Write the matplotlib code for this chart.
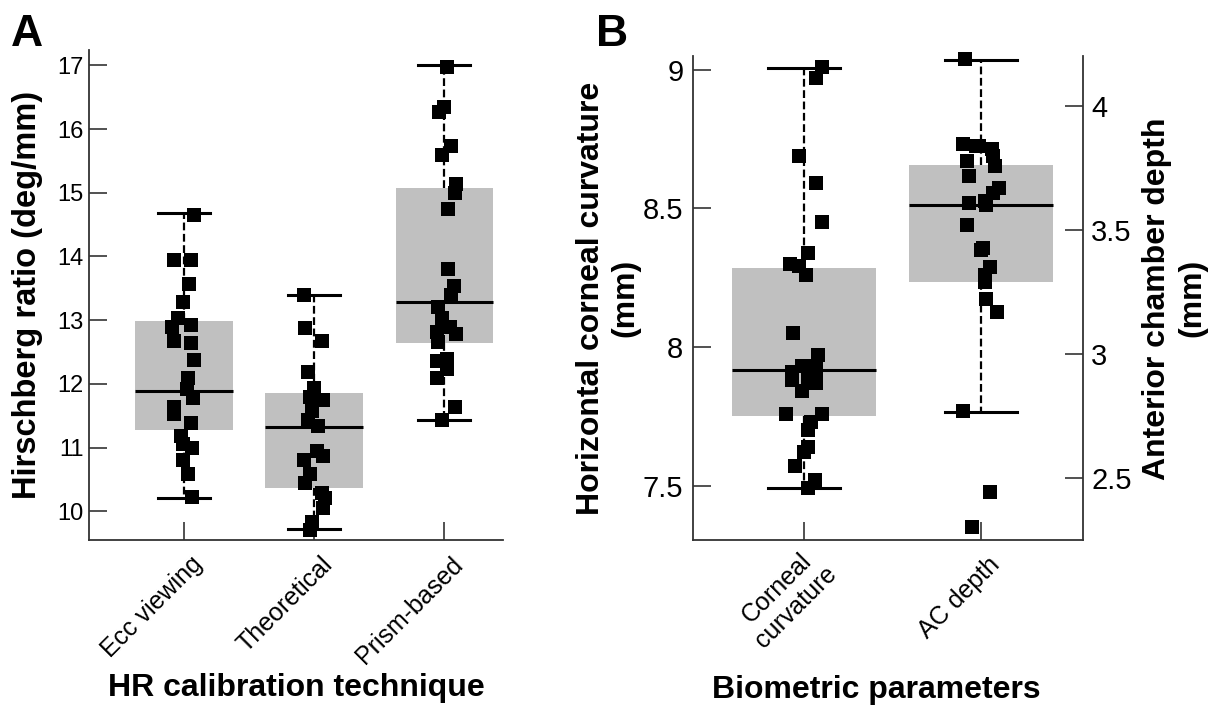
import matplotlib
matplotlib.use("Agg")
import matplotlib.pyplot as plt
from matplotlib.transforms import ScaledTranslation

plt.rcParams['font.family'] = ['Liberation Sans', 'DejaVu Sans']

# ---------------- data ----------------
hr_categories = ["Ecc viewing", "Theoretical", "Prism-based"]
hr_ecc = [14.65, 13.95, 13.95, 13.57, 13.28, 13.04, 12.89, 12.93, 12.68, 12.64, 12.37,
          12.10, 11.92, 11.78, 11.63, 11.52, 11.38, 11.18, 11.05, 11.00, 10.81, 10.59, 10.22]
hr_ecc_jit = [0.08, -0.08, 0.05, 0.04, -0.01, -0.05, -0.09, 0.05, -0.08, 0.05, 0.08,
              0.03, 0.02, 0.07, -0.08, -0.08, 0.05, -0.02, -0.01, 0.06, -0.01, 0.03, 0.06]
hr_theo = [13.40, 12.88, 12.67, 12.19, 11.94, 11.80, 11.74, 11.57, 11.44, 11.34,
           10.94, 10.87, 10.81, 10.58, 10.45, 10.29, 10.21, 10.05, 9.84, 9.71]
hr_theo_jit = [-0.08, -0.07, 0.06, -0.05, 0.0, -0.03, 0.07, -0.02, -0.05, 0.03,
               0.02, 0.07, -0.08, -0.03, -0.07, 0.06, 0.08, 0.07, -0.02, -0.03]
hr_prism = [16.98, 16.35, 16.27, 15.73, 15.59, 15.13, 15.00, 14.75, 13.81, 13.54, 13.39,
            13.20, 13.04, 12.89, 12.81, 12.78, 12.65, 12.39, 12.36, 12.23, 12.10, 11.63, 11.44]
hr_prism_jit = [0.02, 0.0, -0.04, 0.05, -0.02, 0.09, 0.08, 0.03, 0.03, 0.07, 0.05,
                -0.05, -0.02, 0.04, -0.06, 0.09, -0.05, 0.02, -0.06, 0.02, -0.06, 0.08, -0.02]
# box stats: whislo, q1, med, q3, whishi
hr_stats = [[10.21, 11.28, 11.89, 12.98, 14.68],
            [9.73, 10.37, 11.33, 11.86, 13.39],
            [11.43, 12.64, 13.29, 15.07, 17.00]]

bio_categories = ["Corneal\ncurvature", "AC depth"]
curv = [9.01, 8.97, 8.69, 8.59, 8.45, 8.34, 8.30, 8.29, 8.26, 8.05, 7.97, 7.93, 7.93, 7.92,
        7.91, 7.89, 7.88, 7.87, 7.84, 7.76, 7.76, 7.73, 7.70, 7.64, 7.62, 7.57, 7.52, 7.49]
curv_jit = [0.10, 0.07, -0.03, 0.07, 0.10, 0.02, -0.08, -0.03, 0.01, -0.06, 0.08, -0.01, 0.04, 0.07,
            -0.07, 0.02, -0.07, 0.07, -0.01, -0.10, 0.10, 0.04, 0.02, 0.02, 0.0, -0.05, 0.06, 0.02]
acd = [4.19, 3.85, 3.84, 3.84, 3.83, 3.80, 3.78, 3.76, 3.72, 3.67, 3.65, 3.62, 3.60, 3.61,
       3.52, 3.43, 3.42, 3.35, 3.32, 3.29, 3.22, 3.17, 2.77, 2.44, 2.30]
acd_jit = [-0.09, -0.10, -0.03, -0.01, 0.06, 0.07, -0.08, 0.08, -0.07, 0.10, 0.07, 0.02, 0.03, -0.07,
           -0.08, 0.01, 0.0, 0.05, 0.02, 0.02, 0.03, 0.09, -0.10, 0.05, -0.05]
curv_stats = [7.491, 7.752, 7.917, 8.286, 9.006]
acd_stats = [2.767, 3.292, 3.600, 3.764, 4.189]

# ---------------- style ----------------
BOX_C = '#c0c0c0'
SPINE_C = '#333333'
TICK_FS_A = 17
TICK_FS_B = 21
XT_FS = 18
LAB_FS = 23

fig = plt.figure(figsize=(12.15, 7.08), dpi=100)


def stats_dict(s):
    return dict(whislo=s[0], q1=s[1], med=s[2], q3=s[3], whishi=s[4], fliers=[])


def draw_box(ax, pos, s, width, capw):
    ax.bxp([stats_dict(s)], positions=[pos], widths=width, patch_artist=True,
           showfliers=False, capwidths=capw,
           boxprops=dict(facecolor=BOX_C, edgecolor='none', linewidth=0),
           medianprops=dict(color='black', linewidth=2.2),
           whiskerprops=dict(color='black', linewidth=1.6, linestyle=(0, (3.5, 1.6))),
           capprops=dict(color='black', linewidth=2.2), manage_ticks=False, zorder=2)


def draw_points(ax, pos, vals, jit):
    ax.plot([pos + j for j in jit], vals, 's', color='black', markersize=10.5,
            markeredgewidth=0, zorder=4, clip_on=False)


def style_axis(ax, spines, fs):
    for k, sp in ax.spines.items():
        if k in spines:
            sp.set_color(SPINE_C)
            sp.set_linewidth(1.3)
        else:
            sp.set_visible(False)
    ax.tick_params(direction='in', length=13, width=1.2, color=SPINE_C,
                   labelsize=fs)


# ---------------- Panel A ----------------
axA = fig.add_axes([89 / 1215, 1 - 540 / 708, (503 - 89) / 1215, (540 - 50) / 708])
axA.set_xlim(0.27, 3.45)
axA.set_ylim(9.55, 17.24)
for i, (vals, jit) in enumerate([(hr_ecc, hr_ecc_jit), (hr_theo, hr_theo_jit),
                                 (hr_prism, hr_prism_jit)]):
    draw_box(axA, i + 1, hr_stats[i], 0.75, 0.4)
    draw_points(axA, i + 1, vals, jit)
style_axis(axA, ['left', 'bottom'], TICK_FS_A)
axA.set_yticks(range(10, 18))
axA.tick_params(axis='y', pad=4)
axA.set_xticks([1, 2, 3])
axA.set_xticklabels(hr_categories, rotation=45, ha='right', va='center',
                    rotation_mode='anchor', fontsize=XT_FS)
axA.tick_params(axis='x', pad=15)
for lab in axA.get_xticklabels():
    lab.set_transform(lab.get_transform() + ScaledTranslation(0.15, 0, fig.dpi_scale_trans))
axA.set_ylabel("Hirschberg ratio (deg/mm)", fontsize=23.5, fontweight='bold')
axA.yaxis.set_label_coords(-0.11, 0.5)
axA.set_xlabel("HR calibration technique", fontsize=LAB_FS, fontweight='bold')
axA.xaxis.set_label_coords(0.5, -0.272)
fig.text(11 / 1215, 1 - 46 / 708, "A", fontsize=32, fontweight='bold', ha='left',
         va='baseline')

# ---------------- Panel B ----------------
axB = fig.add_axes([693 / 1215, 1 - 540 / 708, (1083 - 693) / 1215, (540 - 56.5) / 708])
axB.set_xlim(0.373, 2.576)
axB.set_ylim(7.304, 9.047)
axB2 = axB.twinx()
axB2.set_ylim(2.248, 4.202)
draw_box(axB, 1, curv_stats, 0.81, 0.41)
draw_points(axB, 1, curv, curv_jit)
draw_box(axB2, 2, acd_stats, 0.81, 0.41)
draw_points(axB2, 2, acd, acd_jit)
style_axis(axB, ['left', 'bottom'], TICK_FS_B)
style_axis(axB2, ['right'], TICK_FS_B)
axB.spines['right'].set_visible(False)
axB2.spines['left'].set_visible(False)
axB2.spines['bottom'].set_visible(False)
axB2.spines['top'].set_visible(False)
axB.set_yticks([7.5, 8, 8.5, 9])
axB.set_yticklabels(['7.5', '8', '8.5', '9'])
axB.tick_params(axis='y', pad=7)
axB2.set_yticks([2.5, 3, 3.5, 4])
axB2.set_yticklabels(['2.5', '3', '3.5', '4'])
axB2.tick_params(axis='y', pad=6)
axB.set_xticks([1, 2])
axB.set_xticklabels(bio_categories, rotation=45, ha='right', va='center',
                    rotation_mode='anchor', multialignment='center', fontsize=XT_FS)
axB.tick_params(axis='x', pad=15)
labs = axB.get_xticklabels()
labs[0].set_transform(labs[0].get_transform() + ScaledTranslation(0.19, 0.0, fig.dpi_scale_trans))
labs[1].set_transform(labs[1].get_transform() + ScaledTranslation(0.15, 0, fig.dpi_scale_trans))
axB.set_ylabel("Horizontal corneal curvature\n(mm)", fontsize=LAB_FS, fontweight='bold',
               multialignment='center')
axB.yaxis.set_label_coords(-0.135, 0.5)
axB2.set_ylabel("Anterior chamber depth\n(mm)", fontsize=23, fontweight='bold',
                multialignment='center')
axB2.yaxis.set_label_coords(1.152, 0.5)
axB.set_xlabel("Biometric parameters", fontsize=LAB_FS, fontweight='bold')
axB.xaxis.set_label_coords(0.47, -0.279)
fig.text(596 / 1215, 1 - 46 / 708, "B", fontsize=32, fontweight='bold', ha='left',
         va='baseline')

fig.savefig("out.png", dpi=100)
